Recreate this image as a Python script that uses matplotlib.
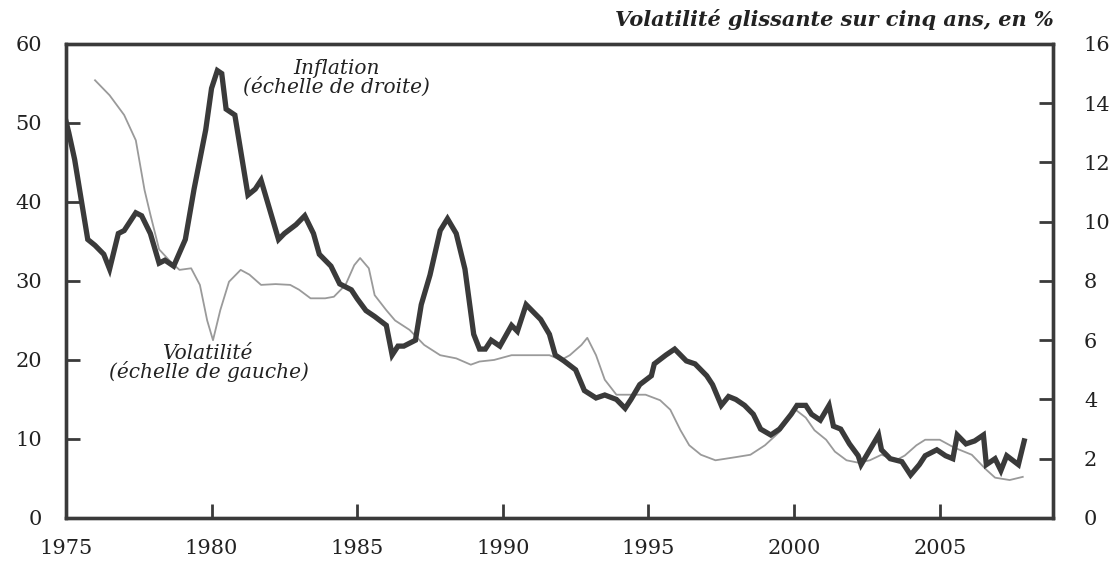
import matplotlib.pyplot as plt

# ---------------- data ----------------
# inflation (right scale, %)
infl_year = [1975.0, 1975.1, 1975.3, 1975.5, 1975.75, 1976.0, 1976.3, 1976.5, 1976.8, 1977.0,
             1977.4, 1977.6, 1977.9, 1978.2, 1978.4, 1978.7, 1979.1, 1979.4, 1979.8, 1980.0,
             1980.2, 1980.35, 1980.5, 1980.8, 1981.0, 1981.25, 1981.5, 1981.7, 1982.0, 1982.3,
             1982.5, 1982.9, 1983.2, 1983.5, 1983.7, 1984.1, 1984.4, 1984.8, 1985.0, 1985.3,
             1985.6, 1986.0, 1986.2, 1986.4, 1986.6, 1987.0, 1987.2, 1987.5, 1987.85, 1988.1,
             1988.4, 1988.7, 1989.0, 1989.2, 1989.4, 1989.6, 1989.9, 1990.3, 1990.5, 1990.8,
             1991.0, 1991.3, 1991.6, 1991.8, 1992.1, 1992.5, 1992.8, 1993.2, 1993.5, 1993.9,
             1994.2, 1994.4, 1994.7, 1995.1, 1995.2, 1995.6, 1995.9, 1996.3, 1996.6, 1997.0,
             1997.2, 1997.5, 1997.75, 1998.0, 1998.3, 1998.6, 1998.85, 1999.2, 1999.5, 1999.9,
             2000.1, 2000.4, 2000.6, 2000.9, 2001.2, 2001.35, 2001.6, 2001.9, 2002.2, 2002.3,
             2002.6, 2002.9, 2003.0, 2003.3, 2003.7, 2004.0, 2004.3, 2004.5, 2004.9, 2005.2,
             2005.45, 2005.6, 2005.9, 2006.2, 2006.5, 2006.6, 2006.9, 2007.1, 2007.3, 2007.5,
             2007.7, 2007.9]
infl_val = [13.4, 13.0, 12.1, 10.9, 9.4, 9.2, 8.9, 8.4, 9.6, 9.7,
            10.3, 10.2, 9.6, 8.6, 8.7, 8.5, 9.4, 11.1, 13.1, 14.5,
            15.1, 15.0, 13.8, 13.6, 12.4, 10.9, 11.1, 11.4, 10.4, 9.4,
            9.6, 9.9, 10.2, 9.6, 8.9, 8.5, 7.9, 7.7, 7.4, 7.0,
            6.8, 6.5, 5.5, 5.8, 5.8, 6.0, 7.2, 8.2, 9.7, 10.1,
            9.6, 8.4, 6.2, 5.7, 5.7, 6.0, 5.8, 6.5, 6.3, 7.2,
            7.0, 6.7, 6.2, 5.5, 5.3, 5.0, 4.3, 4.05, 4.15, 4.0,
            3.7, 4.0, 4.5, 4.8, 5.2, 5.5, 5.7, 5.3, 5.2, 4.8,
            4.5, 3.8, 4.1, 4.0, 3.8, 3.5, 3.0, 2.8, 3.0, 3.5,
            3.8, 3.8, 3.5, 3.3, 3.8, 3.1, 3.0, 2.5, 2.1, 1.8,
            2.3, 2.8, 2.3, 2.0, 1.9, 1.45, 1.8, 2.1, 2.3, 2.1,
            2.0, 2.8, 2.5, 2.6, 2.8, 1.8, 2.0, 1.6, 2.1, 1.95,
            1.8, 2.6]

# volatility (left scale, %)
vol_year = [1976.0, 1976.5, 1977.0, 1977.4, 1977.7, 1977.9, 1978.2, 1978.6, 1978.9, 1979.3,
            1979.6, 1979.85, 1980.05, 1980.3, 1980.6, 1981.0, 1981.3, 1981.7, 1982.2, 1982.7,
            1983.0, 1983.4, 1983.9, 1984.2, 1984.6, 1984.9, 1985.1, 1985.4, 1985.6, 1986.0,
            1986.3, 1986.8, 1987.3, 1987.85, 1988.4, 1988.9, 1989.2, 1989.7, 1990.3, 1990.9,
            1991.6, 1992.0, 1992.3, 1992.7, 1992.9, 1993.2, 1993.5, 1993.9, 1994.4, 1994.9,
            1995.4, 1995.75, 1996.1, 1996.4, 1996.8, 1997.3, 1998.0, 1998.5, 1999.0, 1999.5,
            2000.05, 2000.4, 2000.7, 2001.1, 2001.4, 2001.8, 2002.2, 2002.6, 2003.0, 2003.5,
            2003.8, 2004.2, 2004.5, 2005.0, 2005.5, 2006.1, 2006.6, 2006.9, 2007.4, 2007.85]
vol_val = [55.4, 53.5, 51.0, 47.8, 41.5, 38.4, 34.0, 32.4, 31.4, 31.6,
           29.5, 25.0, 22.5, 26.3, 29.9, 31.4, 30.8, 29.5, 29.6, 29.5,
           28.9, 27.8, 27.8, 28.0, 29.5, 32.0, 32.9, 31.6, 28.2, 26.3,
           25.0, 23.8, 21.9, 20.6, 20.2, 19.4, 19.8, 20.0, 20.6, 20.6,
           20.6, 20.0, 20.6, 21.9, 22.8, 20.6, 17.5, 15.6, 15.6, 15.6,
           14.9, 13.7, 11.1, 9.2, 8.0, 7.3, 7.7, 8.0, 9.2, 10.9,
           13.7, 12.7, 11.1, 9.9, 8.4, 7.3, 7.0, 7.3, 8.0, 7.3,
           7.9, 9.2, 9.9, 9.9, 8.9, 8.0, 6.1, 5.1, 4.8, 5.2]

left_ticks = [0, 10, 20, 30, 40, 50, 60]
right_ticks = [0, 2, 4, 6, 8, 10, 12, 14, 16]
year_ticks = [1975, 1980, 1985, 1990, 1995, 2000, 2005]

plt.rcParams['font.family'] = ['DejaVu Serif']
dark = '#3a3a3a'

fig = plt.figure(figsize=(11.17, 5.63), dpi=100)
ax = fig.add_axes([0.059, 0.080, 0.884, 0.842])
ax2 = ax.twinx()

ax.plot(vol_year, vol_val, color='#9a9a9a', lw=1.3)
ax2.plot(infl_year, infl_val, color=dark, lw=3.8, solid_joinstyle='miter')

ax.set_xlim(1975, 2008.9)
ax.set_ylim(0, 60)
ax2.set_ylim(0, 16)
ax.set_xticks(year_ticks)
ax.set_yticks(left_ticks)
ax2.set_yticks(right_ticks)

for a in (ax, ax2):
    for s in a.spines.values():
        s.set_linewidth(2.4)
        s.set_color(dark)
tick_style = dict(direction='in', length=10, width=2, color=dark, labelsize=15, labelcolor='#222')
ax.tick_params(axis='x', pad=15, **tick_style)
ax.tick_params(axis='y', pad=17, **tick_style)
ax2.tick_params(axis='y', pad=22, **tick_style)

serif_it = dict(family='DejaVu Serif', style='italic', color='#222')
ax.text(1.0, 1.03, 'Volatilité glissante sur cinq ans, en %', transform=ax.transAxes,
        ha='right', va='bottom', fontsize=15, fontweight='bold', **serif_it)
ax2.text(1984.3, 14.85, 'Inflation\n(échelle de droite)', ha='center', va='center',
         fontsize=14.5, linespacing=0.9, **serif_it)
ax.text(1979.9, 19.6, 'Volatilité\n(échelle de gauche)', ha='center', va='center',
        fontsize=14.5, linespacing=0.9, **serif_it)

fig.savefig('out.png', dpi=100)
